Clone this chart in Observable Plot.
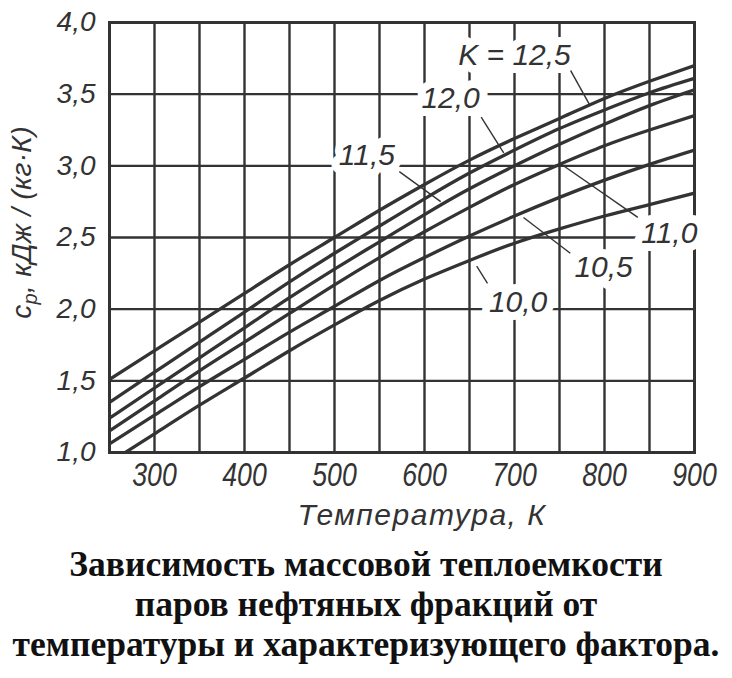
<!DOCTYPE html>
<html><head><meta charset="utf-8">
<script src="https://cdn.jsdelivr.net/npm/d3@7"></script>
<script src="https://cdn.jsdelivr.net/npm/@observablehq/plot@0.6"></script>
<style>
html,body{margin:0;padding:0;background:#fff;}
#chart{width:732px;height:535px;}
#caption{font-family:"Liberation Serif","Times New Roman",serif;font-weight:bold;font-size:35.5px;line-height:40px;text-align:center;color:#111;margin-top:9px;width:732px;}
</style></head><body>
<div id="chart"></div>
<div id="caption">Зависимость массовой теплоемкости<br>паров нефтяных фракций от<br>температуры и характеризующего фактора.</div>
<script>
// Temperature, K
const temperatures = [250, 300, 350, 400, 450, 500, 550, 600, 650, 700, 750, 800, 850, 900];
// Characterizing factor K
const kFactors = ["12,5", "12,0", "11,5", "11,0", "10,5", "10,0"];
// c_p, kJ/(kg·K) for each K
const cpK125 = [1.51, 1.71, 1.91, 2.11, 2.31, 2.50, 2.69, 2.87, 3.04, 3.19, 3.33, 3.47, 3.59, 3.70];
const cpK120 = [1.35, 1.56, 1.77, 1.98, 2.19, 2.39, 2.58, 2.77, 2.95, 3.11, 3.26, 3.39, 3.51, 3.61];
const cpK115 = [1.24, 1.45, 1.66, 1.87, 2.08, 2.28, 2.47, 2.66, 2.84, 3.00, 3.15, 3.29, 3.42, 3.53];
const cpK110 = [1.15, 1.36, 1.57, 1.77, 1.97, 2.17, 2.36, 2.54, 2.71, 2.87, 3.01, 3.14, 3.25, 3.35];
const cpK105 = [1.06, 1.26, 1.46, 1.65, 1.84, 2.02, 2.20, 2.36, 2.51, 2.65, 2.78, 2.90, 3.01, 3.11];
const cpK100 = [0.93, 1.13, 1.33, 1.52, 1.71, 1.89, 2.06, 2.21, 2.34, 2.46, 2.56, 2.65, 2.73, 2.81];
const cpSeries = [cpK125, cpK120, cpK115, cpK110, cpK105, cpK100];

// ticks and grid
const xTicks = [300, 400, 500, 600, 700, 800, 900];
const yTicks = [1.0, 1.5, 2.0, 2.5, 3.0, 3.5, 4.0];
const xGrid = [300, 350, 400, 450, 500, 550, 600, 650, 700, 750, 800, 850];
const yGrid = [1.5, 2.0, 2.5, 3.0, 3.5];

// curve labels (data coordinates)
const curveLabels = ["K = 12,5", "12,0", "11,5", "11,0", "10,5", "10,0"];
const labelT = [700, 629, 536, 872, 799, 704];
const labelCp = [3.77, 3.47, 3.07, 2.53, 2.29, 2.05];
// leader lines (data coordinates)
const leaderT1 = [761, 663, 572, 750, 710, 658];
const leaderCp1 = [3.68, 3.34, 2.96, 3.02, 2.64, 2.30];
const leaderT2 = [784, 688, 618, 837, 762, 670];
const leaderCp2 = [3.42, 3.09, 2.75, 2.64, 2.39, 2.18];

const xTitle = "Температура, К";
const yTitle = "cp, кДж / (кг·К)";

const rows = kFactors.flatMap((k, i) => temperatures.map((t, j) => ({K: k, T: t, cp: cpSeries[i][j]})));
const labels = curveLabels.map((s, i) => ({label: s, T: labelT[i], cp: labelCp[i]}));
const leaders = curveLabels.map((s, i) => ({T1: leaderT1[i], c1: leaderCp1[i], T2: leaderT2[i], c2: leaderCp2[i]}));

const ink = "#333";
const sans = '"Liberation Sans", Arial, sans-serif';
const fmt = d => d.toFixed(1).replace(".", ",");

const plot = Plot.plot({
  width: 732,
  height: 535,
  marginLeft: 109,
  marginRight: 38,
  marginTop: 22,
  marginBottom: 83,
  x: {domain: [250, 900]},
  y: {domain: [1, 4]},
  style: {background: "#fff", color: ink},
  marks: [
    Plot.ruleX(xGrid, {stroke: ink, strokeWidth: 2.4}),
    Plot.ruleY(yGrid, {stroke: ink, strokeWidth: 2.4}),
    Plot.frame({stroke: ink, strokeWidth: 3}),
    Plot.line(rows, {x: "T", y: "cp", z: "K", stroke: ink, strokeWidth: 3.3, curve: "natural", clip: true}),
    Plot.link(leaders, {x1: "T1", y1: "c1", x2: "T2", y2: "c2", stroke: ink, strokeWidth: 1.4}),
    Plot.text(labels, {x: "T", y: "cp", text: "label", fontSize: 30, fontStyle: "italic", fontFamily: sans,
      fill: ink, stroke: "white", strokeWidth: 16, paintOrder: "stroke", strokeLinejoin: "round"}),
    Plot.axisX({ticks: xTicks, tickSize: 0, tickPadding: 10, tickFormat: d => String(d), label: null,
      fontSize: 31, fontStyle: "italic", fontFamily: sans, fill: ink}),
    Plot.axisY({ticks: yTicks, tickSize: 0, tickPadding: 14, tickFormat: fmt, label: null,
      fontSize: 28, fontStyle: "italic", fontFamily: sans, fill: ink}),
    Plot.text([xTitle], {frameAnchor: "bottom", dy: 51, dx: 20, lineAnchor: "top", textAnchor: "middle", fontSize: 30,
      fontStyle: "italic", fontFamily: sans, fill: ink}),
    Plot.text([yTitle], {frameAnchor: "left", rotate: -90, dx: -87, dy: -15, textAnchor: "middle", fontSize: 28,
      fontStyle: "italic", fontFamily: sans, fill: ink})
  ]
});
document.getElementById("chart").appendChild(plot);

// narrow the x tick digits as in the original drawing
plot.querySelectorAll('g[aria-label="x-axis tick label"] text').forEach(t => {
  const tr = t.getAttribute("transform");
  if (tr) t.setAttribute("transform", tr + " scale(0.86,1.06)");
});

plot.querySelectorAll("text").forEach(t => {
  if (t.textContent === xTitle) t.setAttribute("letter-spacing", "1.5");
  if (t.textContent === yTitle) {
    t.setAttribute("letter-spacing", "0.3");
    t.textContent = "";
    const ns = "http://www.w3.org/2000/svg";
    const a = document.createElementNS(ns, "tspan"); a.textContent = "c";
    const b = document.createElementNS(ns, "tspan"); b.textContent = "p"; b.setAttribute("dy", "6"); b.setAttribute("font-size", "20");
    const c = document.createElementNS(ns, "tspan"); c.textContent = ", кДж / (кг·К)"; c.setAttribute("dy", "-6");
    t.append(a, b, c);
  }
});
</script>
</body></html>
